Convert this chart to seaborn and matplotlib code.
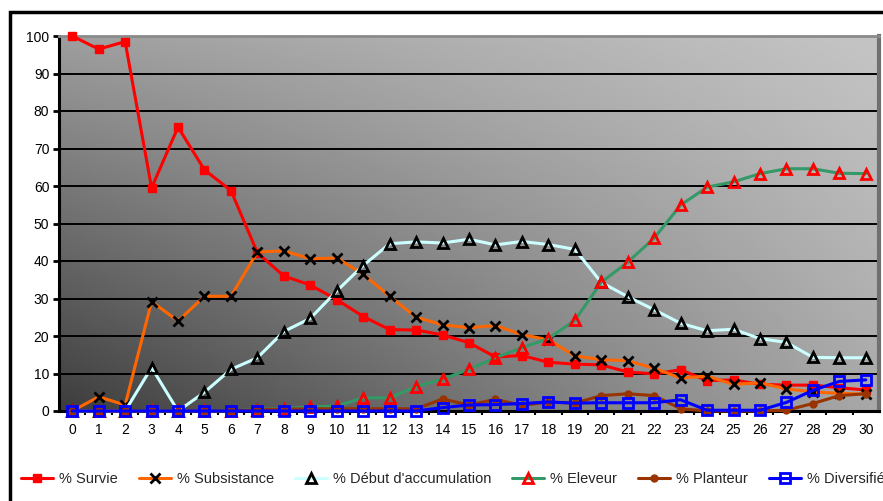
import numpy as np
import pandas as pd
import matplotlib
matplotlib.use("Agg")
import matplotlib.pyplot as plt
from matplotlib.patches import Rectangle
import seaborn as sns

# Years of follow-up (category axis)
years = list(range(31))

survie = [100, 96.5, 98.5, 59.5, 75.7, 64.3, 58.8, 42.2, 36, 33.6, 29.7, 25.2, 21.7, 21.6, 20.3,
          18.2, 14.4, 14.8, 13, 12.5, 12.3, 10.4, 9.9, 11, 8.1, 8.3, 7.1, 6.9, 6.9, 6.2, 5.6]
subsistance = [0, 3.8, 1.6, 29.2, 24, 30.6, 30.6, 42.4, 42.7, 40.6, 40.8, 36.5, 30.6, 25, 23, 22.2,
               22.8, 20.4, 19, 14.7, 13.7, 13.4, 11.4, 8.8, 9.3, 7.1, 7.5, 5.9, 5.1, 4.7, 4.5]
debut_accum = [0, 0, 0, 11.6, 0, 5, 11.1, 14.2, 21.2, 24.7, 32, 38.8, 44.6, 45.1, 44.8, 45.8,
               44.3, 45.2, 44.4, 43.1, 34.3, 30.5, 27, 23.4, 21.4, 21.8, 19.3, 18.3, 14.3, 14.2, 14.2]
eleveur = [0, 0, 0, 0, 0, 0, 0, 0.4, 0.6, 1.1, 1.3, 3.5, 3.5, 6.5, 8.5, 11.1, 14.2, 16.9, 19.3,
           24.2, 34.3, 39.7, 46.1, 54.9, 59.7, 61.1, 63.3, 64.6, 64.6, 63.4, 63.3]
planteur = [0, 0, 0, 0, 0, 0, 0, 0.3, 0.5, 0.6, 0.6, 0.6, 0.6, 0.6, 3.2, 1.6, 3.1, 1.5, 2.4, 2.1,
            4.1, 4.6, 4.1, 0.6, 0, 0, 0, 0.2, 2, 4.1, 4.6]
diversifie = [0, 0, 0, 0, 0, 0, 0, 0, 0, 0, 0, 0, 0, 0, 0.9, 1.6, 1.7, 2, 2.4, 2.1, 2.2, 2.2, 2.2,
              3, 0.2, 0.2, 0.2, 2.3, 5.5, 7.9, 8.3]

labels = ["% Survie", "% Subsistance", "% Début d'accumulation", "% Eleveur", "% Planteur", "% Diversifié"]
y_ticks = list(range(0, 101, 10))

sns.set_style("ticks")
plt.rcParams["font.family"] = ["Liberation Sans", "DejaVu Sans"]

W, H = 883, 501
fig = plt.figure(figsize=(W / 100, H / 100), dpi=100)
ax = fig.add_axes([59 / W, 1 - 411 / H, (879 - 59) / W, (411 - 36) / H])

# Diagonal grey gradient background of the plot area
n = 200
u = np.linspace(0, 1, n)[None, :]
v = np.linspace(0, 1, n)[:, None]  # v=0 top, v=1 bottom (imshow origin upper)
tl, tr, bl, br = 0.62, 0.77, 0.24, 0.66
grad = (tl * (1 - u) * (1 - v) + tr * u * (1 - v) + bl * (1 - u) * v + br * u * v)
ax.imshow(grad, cmap="gray", vmin=0, vmax=1, extent=[0, 1, 0, 1], transform=ax.transAxes,
          aspect="auto", zorder=0, interpolation="bilinear")

series = [
    dict(y=survie, color="#FF0000", marker="s", ms=5.5, mec="#FF0000", mfc="#FF0000", mew=1),
    dict(y=subsistance, color="#FF6600", marker="x", ms=7, mec="black", mfc="black", mew=2),
    dict(y=debut_accum, color="#CCFFFF", marker="^", ms=7.5, mec="black", mfc="none", mew=2),
    dict(y=eleveur, color="#339966", marker="^", ms=7.5, mec="#FF0000", mfc="none", mew=2),
    dict(y=planteur, color="#993300", marker="o", ms=5, mec="#993300", mfc="#993300", mew=1),
    dict(y=diversifie, color="#0000FF", marker="s", ms=6.5, mec="#0000FF", mfc="none", mew=2),
]

for i, (s, lab) in enumerate(zip(series, labels)):
    sns.lineplot(x=years, y=s["y"], ax=ax, color=s["color"], linewidth=2.2,
                 marker=s["marker"], markersize=s["ms"], markeredgecolor=s["mec"],
                 markerfacecolor=s["mfc"], markeredgewidth=s["mew"], label=lab,
                 zorder=3 + i, clip_on=False)

ax.set_xlim(-0.5, 30.5)
ax.set_ylim(0, 100)
ax.set_xlabel("")
ax.set_ylabel("")
ax.set_yticks(y_ticks)
ax.set_xticks(years)
ax.set_xticks([x + 0.5 for x in years[:-1]], minor=True)
ax.tick_params(axis="x", which="major", length=0, pad=9, labelsize=10, colors="black")
ax.tick_params(axis="x", which="minor", length=3, width=1.5, color="black", direction="out")
ax.tick_params(axis="y", which="major", length=4, width=2, pad=3, labelsize=10, colors="black",
               direction="out")
ax.yaxis.grid(True, color="black", linewidth=1.4, zorder=1)
ax.set_axisbelow(True)

for side in ("left", "bottom"):
    ax.spines[side].set_color("black")
    ax.spines[side].set_linewidth(2.2)
ax.spines["top"].set_color("#8a8a8a")
ax.spines["top"].set_linewidth(2)
ax.spines["right"].set_color("#707070")
ax.spines["right"].set_linewidth(3)

# Legend along the bottom of the chart
handles, labs = ax.get_legend_handles_labels()
ax.get_legend().remove()
fs = 10.5
px = fs * 100 / 72
fig.legend(handles, labs, loc="center left", bbox_to_anchor=(21 / W, 1 - 479 / H), ncol=6,
           frameon=False, fontsize=fs, handlelength=32 / px, handletextpad=6 / px,
           columnspacing=21 / px, borderpad=0, borderaxespad=0)

# Outer chart border
fig.patches.append(Rectangle((10 / W, -0.2), 1.2, 1.2 - 12 / H, transform=fig.transFigure,
                             fill=False, edgecolor="black", linewidth=2.5, zorder=10))

fig.savefig("out.png", dpi=100)
